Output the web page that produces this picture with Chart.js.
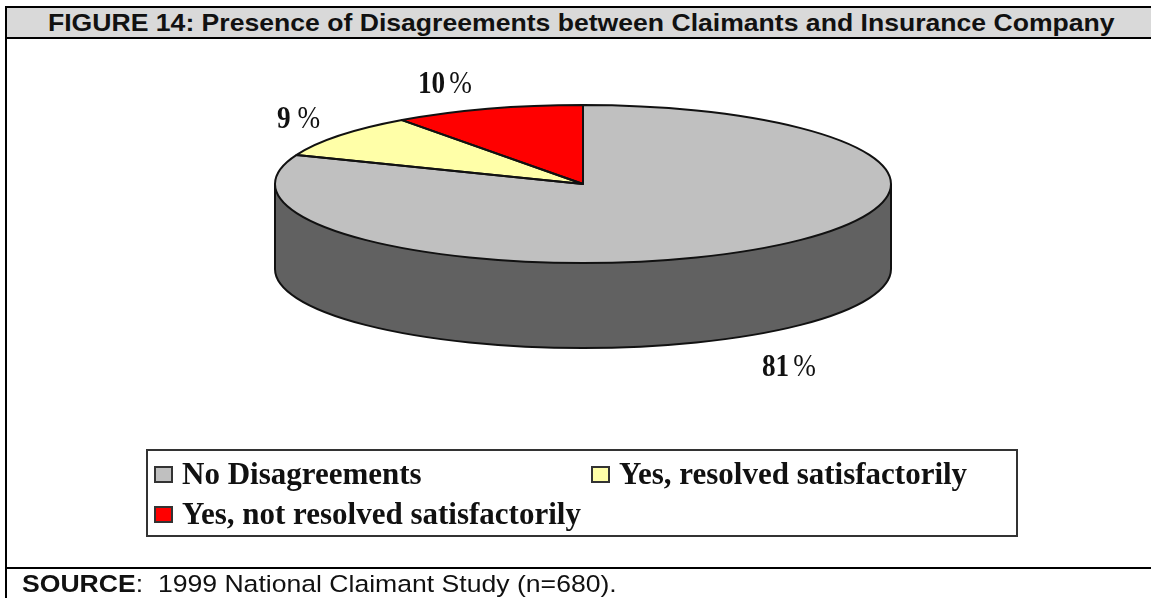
<!DOCTYPE html>
<html>
<head>
<meta charset="utf-8">
<script src="https://cdn.jsdelivr.net/npm/chart.js@4/dist/chart.umd.js"></script>
<style>
  html, body { margin: 0; padding: 0; background: #fff; overflow: hidden; }
  #page { position: relative; width: 1151px; height: 598px; overflow: hidden; }
  #frame { position: absolute; left: 5px; top: 6px; width: 1146px; height: 592px; border-top: 2px solid #000; border-left: 2px solid #000; box-sizing: border-box; }
  #rule { position: absolute; left: 5px; top: 567px; width: 1146px; height: 2px; background: #000; }
  #head { position: absolute; left: 7px; top: 8px; width: 1144px; height: 29px; background: #d9d9d9; border-bottom: 2px solid #000; }
  #head span { position: absolute; left: 41px; top: 0; font: bold 24.5px "Liberation Sans", Arial, sans-serif; line-height: 29px; white-space: nowrap; color: #111; transform: scaleX(1.085); transform-origin: 0 0; }
  #foot { position: absolute; left: 22px; top: 570px; font: 24.5px "Liberation Sans", Arial, sans-serif; line-height: 28px; white-space: pre; color: #111; transform: scaleX(1.085); transform-origin: 0 0; }
  canvas { position: absolute; left: 0; top: 0; }
  #legend { position: absolute; left: 146px; top: 449px; width: 872px; height: 88px; border: 2px solid #333; box-sizing: border-box; font: bold 31px "Liberation Serif", "Times New Roman", serif; color: #111; }
  .item { position: absolute; white-space: nowrap; line-height: 36px; }
  .swatch { display: inline-block; width: 19px; height: 17px; border: 2px solid #333; box-sizing: border-box; margin-right: 9px; vertical-align: 1px; }
</style>
</head>
<body>
<div id="page">
  <canvas id="pie" width="1151" height="598"></canvas>
  <div id="frame"></div>
  <div id="rule"></div>
  <div id="head"><span id="title"></span></div>
  <div id="legend"></div>
  <div id="foot"><b>SOURCE</b>:  1999 National Claimant Study (n=680).</div>
</div>
<script>
var title = "FIGURE 14: Presence of Disagreements between Claimants and Insurance Company";
var categories = ["No Disagreements", "Yes, resolved satisfactorily", "Yes, not resolved satisfactorily"];
var values = [81, 9, 10];
var colors = ["#c0c0c0", "#ffffa8", "#ff0000"];
var wall_color = "#616161";

var squash = 0.2565;  // tilt of the pie
var depth = 85;       // height of the wall in px
var centre_y = 184;

document.getElementById("title").textContent = title;

var legend_pos = [[6, 5], [443, 5], [6, 45]];
categories.forEach(function(name, i) {
  var item = document.createElement("div");
  item.className = "item";
  item.style.left = legend_pos[i][0] + "px";
  item.style.top = legend_pos[i][1] + "px";
  item.innerHTML = '<span class="swatch" style="background:' + colors[i] + '"></span>' + name;
  document.getElementById("legend").appendChild(item);
});

// squash the round pie into an ellipse and put a wall under it
var tilt = {
  id: "tilt",
  beforeDatasetsDraw: function(chart) {
    var ctx = chart.ctx;
    var arc = chart.getDatasetMeta(0).data[0];
    var r = arc.outerRadius;
    ctx.save();
    ctx.fillStyle = wall_color;
    ctx.strokeStyle = "#111";
    ctx.lineWidth = 2;
    // side of the pie
    ctx.beginPath();
    ctx.ellipse(arc.x, centre_y + depth, r, r * squash, 0, 0, Math.PI);
    ctx.lineTo(arc.x - r, centre_y);
    ctx.lineTo(arc.x + r, centre_y);
    ctx.closePath();
    ctx.fill();
    ctx.beginPath();
    ctx.ellipse(arc.x, centre_y + depth, r, r * squash, 0, 0, Math.PI);
    ctx.moveTo(arc.x - r, centre_y);
    ctx.lineTo(arc.x - r, centre_y + depth);
    ctx.moveTo(arc.x + r, centre_y);
    ctx.lineTo(arc.x + r, centre_y + depth);
    ctx.stroke();
    ctx.restore();
    ctx.save();
    ctx.translate(0, centre_y - arc.y * squash);
    ctx.scale(1, squash);
  },
  afterDatasetsDraw: function(chart) {
    var ctx = chart.ctx;
    ctx.restore();
    // outlines with even thickness
    var arcs = chart.getDatasetMeta(0).data;
    var r = arcs[0].outerRadius;
    ctx.save();
    ctx.lineWidth = 2;
    ctx.lineJoin = "round";
    ctx.strokeStyle = "#111";
    arcs.forEach(function(a) {
      ctx.beginPath();
      ctx.moveTo(a.x, centre_y);
      ctx.ellipse(a.x, centre_y, r, r * squash, 0, a.startAngle, a.endAngle);
      ctx.closePath();
      ctx.stroke();
    });
    ctx.restore();
    // percent labels: number bold, sign regular, both a bit narrow
    var label_pos = [[762, 376, 4], [277, 128, 7], [418, 93, 4]];
    ctx.save();
    ctx.fillStyle = "#111";
    ctx.textBaseline = "alphabetic";
    ctx.textAlign = "left";
    values.forEach(function(v, i) {
      var x = label_pos[i][0], y = label_pos[i][1], gap = label_pos[i][2];
      ctx.save();
      ctx.translate(x, y);
      ctx.scale(0.85, 1);
      ctx.font = 'bold 32px "Liberation Serif", serif';
      var w = ctx.measureText(String(v)).width;
      ctx.fillText(String(v), 0, 0);
      ctx.font = '32px "Liberation Serif", serif';
      ctx.fillText("%", w + gap / 0.85, 0);
      ctx.restore();
    });
    ctx.restore();
  }
};

var chart = new Chart(document.getElementById("pie"), {
  type: "pie",
  data: {
    labels: categories,
    datasets: [{
      data: values,
      backgroundColor: colors,
      borderWidth: 0,
      radius: 308
    }]
  },
  options: {
    responsive: false,
    animation: false,
    layout: { padding: { left: 15 } },
    plugins: { legend: { display: false }, tooltip: { enabled: false } }
  },
  plugins: [tilt]
});
</script>
</body>
</html>
